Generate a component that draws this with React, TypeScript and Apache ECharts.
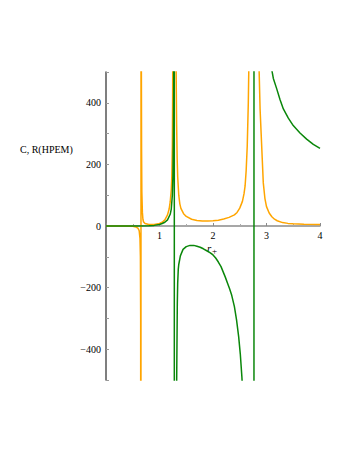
import React, { useEffect, useRef } from "react";
import * as echarts from "echarts";

// Orange curve (R)
const orangeX = [0, 0.3, 0.5, 0.56, 0.6, 0.62, 0.635, 0.643, 0.648, 0.652, 0.656, 0.66, 0.665, 0.67, 0.68, 0.69, 0.7, 0.73, 0.8, 0.9, 1.0, 1.05, 1.1, 1.15, 1.18, 1.2, 1.22, 1.23, 1.24, 1.245, 1.255, 1.265, 1.277, 1.29, 1.3, 1.31, 1.32, 1.33, 1.34, 1.36, 1.38, 1.4, 1.45, 1.5, 1.6, 1.7, 1.8, 1.9, 2.0, 2.1, 2.2, 2.3, 2.4, 2.45, 2.5, 2.55, 2.58, 2.6, 2.62, 2.64, 2.66, 2.67, 2.69, 2.72, 2.766, 2.8, 2.83, 2.86, 2.88, 2.9, 2.92, 2.94, 2.97, 3.0, 3.05, 3.1, 3.15, 3.2, 3.3, 3.4, 3.5, 3.7, 4.0];
const orangeY = [0, 0, -1, -3, -8, -15, -40, -100, -300, -3000, 3000, 600, 250, 110, 45, 22, 14, 8, 5, 5, 8, 12, 20, 36, 55, 78, 118, 160, 260, 400, 900, 2500, 8000, 2500, 1000, 520, 330, 220, 160, 100, 72, 57, 40, 31, 22, 18, 16, 16, 17, 19, 23, 28, 36, 44, 58, 80, 105, 130, 180, 260, 400, 520, 900, 2000, 8000, 2500, 1000, 520, 380, 300, 220, 140, 90, 63, 42, 30, 22, 17, 11, 8.5, 7, 6, 5];

// Green curve (C)
const greenX = [0, 0.5, 0.8, 0.9, 1.0, 1.05, 1.1, 1.15, 1.2, 1.22, 1.24, 1.25, 1.26, 1.265, 1.27, 1.275, 1.279, 1.29, 1.3, 1.31, 1.32, 1.333, 1.34, 1.351, 1.36, 1.39, 1.44, 1.5, 1.57, 1.64, 1.7, 1.76, 1.82, 1.9, 1.95, 2.0, 2.05, 2.1, 2.15, 2.19, 2.23, 2.27, 2.31, 2.35, 2.4, 2.44, 2.48, 2.51, 2.54, 2.58, 2.62, 2.66, 2.7, 2.74, 2.764, 2.768, 2.8, 2.9, 3.0, 3.05, 3.1, 3.128, 3.19, 3.252, 3.315, 3.408, 3.5, 3.626, 3.75, 3.875, 4.0];
const greenY = [0, 0, 1, 2, 5, 8, 12, 20, 38, 55, 100, 160, 300, 450, 900, 8000, -8000, -2000, -1100, -750, -520, -250, -185, -140, -125, -97, -76, -67, -63, -63, -66, -69, -74, -82, -87, -94, -104, -117, -132, -149, -166, -185, -204, -225, -262, -305, -360, -415, -490, -620, -800, -1100, -1600, -3000, -8000, 8000, 3000, 1200, 700, 580, 506, 479, 446, 411, 380, 350, 326, 302, 282, 265, 252];

const xMin = 0, xMax = 4, xStep = 1;
const yMin = -500, yMax = 500, yStep = 100;

const SERIF = '"Liberation Serif", "Times New Roman", serif';

export default function App() {
  const ref = useRef<HTMLDivElement>(null);
  useEffect(() => {
    if (!ref.current) return;
    const chart = echarts.init(ref.current, undefined, { renderer: "svg" });
    const orangeData = orangeX.map((x, i) => [x, orangeY[i]]);
    const greenData = greenX.map((x, i) => [x, greenY[i]]);
    chart.setOption({
      animation: false,
      backgroundColor: "#fff",
      grid: { left: 106, right: 29, top: 72, bottom: 71 },
      xAxis: {
        type: "value",
        min: xMin,
        max: xMax,
        interval: xStep,
        position: "bottom",
        offset: -154,
        axisLine: { onZero: false, lineStyle: { color: "#8a8a8a", width: 1.5 } },
        axisTick: { inside: true, length: 3, lineStyle: { color: "#8a8a8a" } },
        minorTick: { show: true, splitNumber: 2, length: 2, lineStyle: { color: "#aaa" } },
        splitLine: { show: false },
        axisLabel: {
          margin: 4,
          color: "#000",
          fontFamily: SERIF,
          fontSize: 10,
          formatter: (v: number) => (v === 0 ? "" : String(v)),
        },
      },
      yAxis: {
        type: "value",
        min: yMin,
        max: yMax,
        interval: yStep,
        axisLine: { show: true, onZero: false, lineStyle: { color: "#555", width: 1.5 } },
        axisTick: { show: true, inside: true, length: 3, lineStyle: { color: "#999" } },
        splitLine: { show: false },
        axisLabel: {
          margin: 5,
          color: "#000",
          fontFamily: SERIF,
          fontSize: 10,
          formatter: (v: number) =>
            v % 200 !== 0 ? "" : v < 0 ? "\u2212" + Math.abs(v) : String(v),
        },
      },
      graphic: [
        {
          type: "text",
          left: 20,
          top: 144,
          style: { text: "C, R(HPEM)", font: `10px ${SERIF}`, fill: "#000" },
        },
        {
          type: "text",
          x: 207,
          y: 248,
          style: {
            text: "r",
            font: `italic 11px ${SERIF}`,
            fill: "#000",
            verticalAlign: "middle",
          },
        },
        {
          type: "text",
          x: 212,
          y: 251,
          style: { text: "+", font: `9px ${SERIF}`, fill: "#000", verticalAlign: "middle" },
        },
      ],
      series: [
        {
          type: "line",
          data: orangeData,
          showSymbol: false,
          clip: true,
          lineStyle: { color: "#FFA500", width: 1.5 },
          itemStyle: { color: "#FFA500" },
          z: 3,
        },
        {
          type: "line",
          data: greenData,
          showSymbol: false,
          clip: true,
          lineStyle: { color: "#0a870a", width: 1.5 },
          itemStyle: { color: "#0a870a" },
          z: 4,
        },
      ],
    });
    return () => chart.dispose();
  }, []);
  return (
    <div
      ref={ref}
      style={{ position: "fixed", left: 0, top: 0, width: 349, height: 451, background: "#fff" }}
    />
  );
}
